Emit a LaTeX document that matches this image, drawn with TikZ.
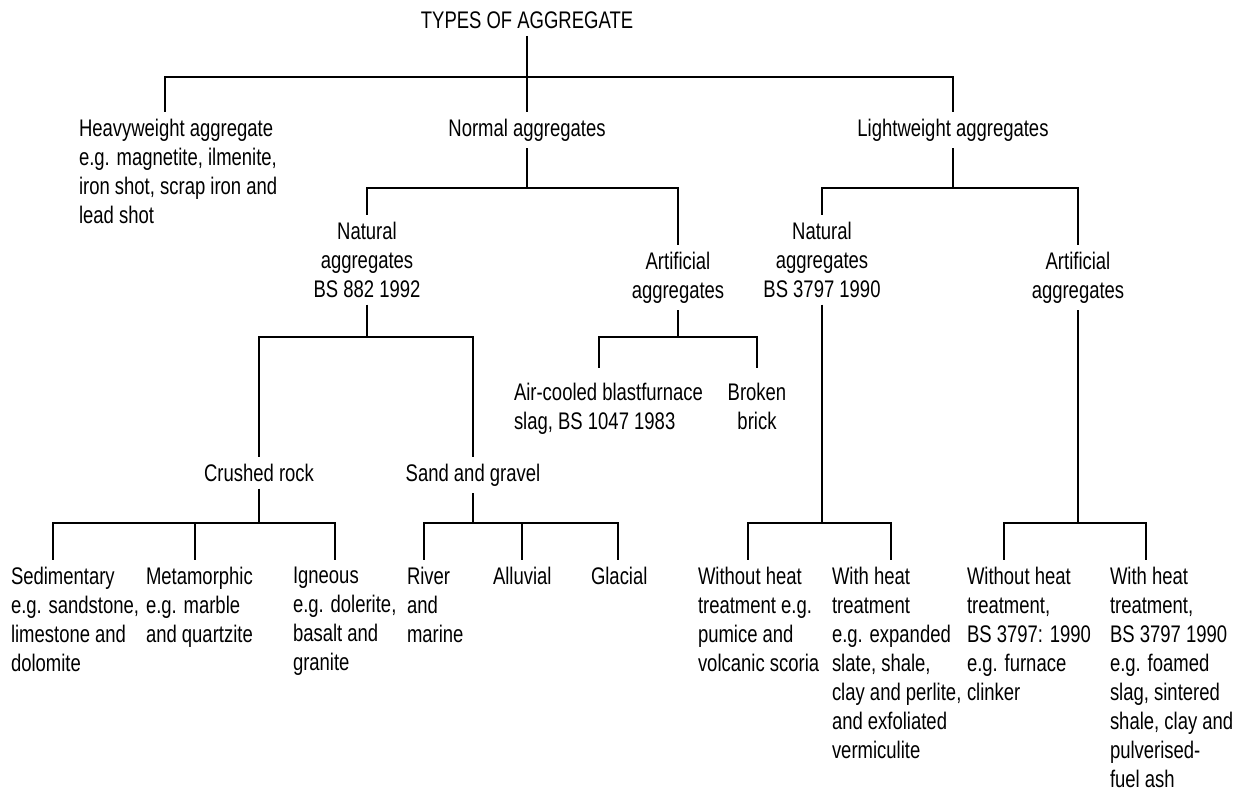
\documentclass[tikz,border=0pt]{standalone}
\usepackage{fontspec}
\setmainfont{Liberation Sans}[FakeStretch=0.77]
\usetikzlibrary{calc}

\begin{document}
\begin{tikzpicture}[x=0.5pt,y=-0.5pt,line width=1pt,
  every node/.style={font=\fontsize{12}{14.5}\selectfont,inner xsep=0pt,inner ysep=3pt},
  head/.style={anchor=north,align=center},
  leaf/.style={anchor=north west,align=left}]
\useasboundingbox (0,0) rectangle (1244,796);
% bus levels
\coordinate (bus1) at (0,77);
\coordinate (bus2) at (0,188);
\coordinate (bus3) at (0,337);
\coordinate (bus4) at (0,523);
% classes
\node[head] (types) at (527,5) {TYPES OF AGGREGATE};
\node[leaf] (heavy) at (78,112) {Heavyweight aggregate\\e.g. magnetite, ilmenite,\\iron shot, scrap iron and\\lead shot};
\node[head] (normal) at (527,112) {Normal aggregates};
\node[head] (light) at (953,112) {Lightweight aggregates};
\node[head] (natN) at (367,215) {Natural\\aggregates\\BS 882 1992};
\node[head] (artN) at (678,245) {Artificial\\aggregates};
\node[head] (natL) at (822,215) {Natural\\aggregates\\BS 3797 1990};
\node[head] (artL) at (1078,245) {Artificial\\aggregates};
\node[head] (crushed) at (259,457) {Crushed rock};
\node[head] (sand) at (473,457) {Sand and gravel};
\node[leaf,inner ysep=7pt] (slag) at (513,368) {Air-cooled blastfurnace\\slag, BS 1047 1983};
\node[head,inner ysep=7pt] (brick) at (757,368) {Broken\\brick};
% leaves
\node[leaf] (sed) at (10,560) {Sedimentary\\e.g. sandstone,\\limestone and\\dolomite};
\node[leaf] (meta) at (145,560) {Metamorphic\\e.g. marble\\and quartzite};
\node[leaf] (igneous) at (292,560) {Igneous\\e.g. dolerite,\\basalt and\\granite};
\node[leaf] (river) at (406,560) {River\\and\\marine};
\node[leaf] (alluvial) at (492,560) {Alluvial};
\node[leaf] (glacial) at (590,560) {Glacial};
\node[leaf] (noheatN) at (697,560) {Without heat\\treatment e.g.\\pumice and\\volcanic scoria};
\node[leaf] (heatN) at (831,560) {With heat\\treatment\\e.g. expanded\\slate, shale,\\clay and perlite,\\and exfoliated\\vermiculite};
\node[leaf] (noheatA) at (966,560) {Without heat\\treatment,\\BS 3797: 1990\\e.g. furnace\\clinker};
\node[leaf] (heatA) at (1109,560) {With heat\\treatment,\\BS 3797 1990\\e.g. foamed\\slag, sintered\\shale, clay and\\pulverised-\\fuel ash};
% leg tops of left aligned nodes
\foreach \n/\d in {heavy/87,slag/86,sed/43,meta/50,igneous/43,river/18,alluvial/30,glacial/28,%
  noheatN/51,heatN/60,noheatA/38,heatA/37}
  \coordinate (\n-top) at ($(\n.north west)+(\d,0)$);
% connectors
\draw (types.south) -- (normal.north);
\draw (heavy-top) |- (bus1 -| light.north) -- (light.north);
\draw (normal.south) -- (normal.south |- bus2);
\draw (natN.north) |- (bus2 -| artN.north) -- (artN.north);
\draw (light.south) -- (light.south |- bus2);
\draw (natL.north) |- (bus2 -| artL.north) -- (artL.north);
\draw (natN.south) -- (natN.south |- bus3);
\draw (crushed.north) |- (bus3 -| sand.north) -- (sand.north);
\draw (artN.south) -- (artN.south |- bus3);
\draw (slag-top) |- (bus3 -| brick.north) -- (brick.north);
\draw (crushed.south) -- (crushed.south |- bus4);
\draw (sed-top) |- (bus4 -| igneous-top) -- (igneous-top);
\draw (meta-top) -- (meta-top |- bus4);
\draw (sand.south) -- (sand.south |- bus4);
\draw (river-top) |- (bus4 -| glacial-top) -- (glacial-top);
\draw (alluvial-top) -- (alluvial-top |- bus4);
\draw (natL.south) -- (natL.south |- bus4);
\draw (noheatN-top) |- (bus4 -| heatN-top) -- (heatN-top);
\draw (artL.south) -- (artL.south |- bus4);
\draw (noheatA-top) |- (bus4 -| heatA-top) -- (heatA-top);
\end{tikzpicture}
\end{document}
